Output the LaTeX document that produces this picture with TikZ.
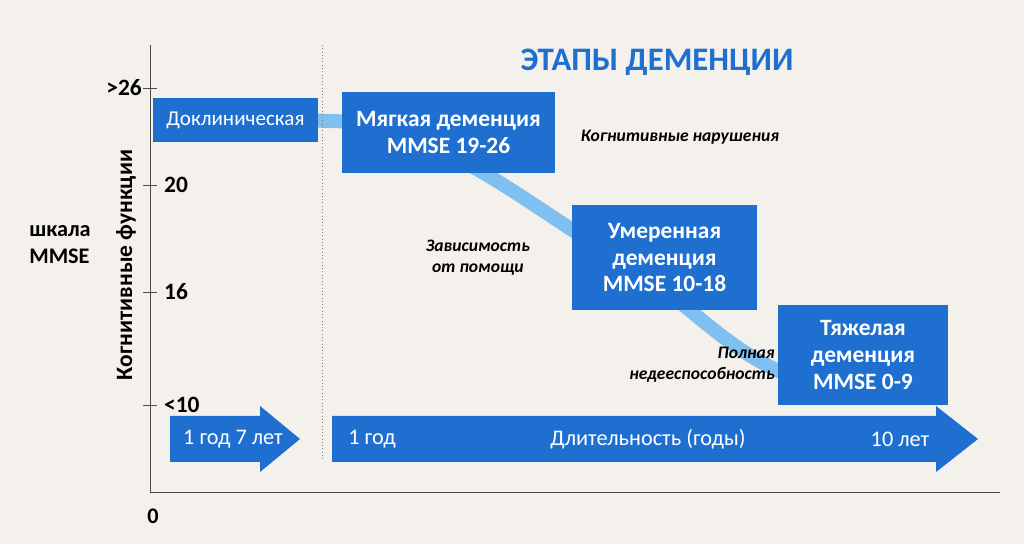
\documentclass[tikz,border=0pt]{standalone}
\usepackage{fontspec}
\setmainfont{Carlito}
\definecolor{bg}{HTML}{F4F1ED}
\definecolor{stageblue}{HTML}{1E6FD0}
\definecolor{pathblue}{HTML}{7FC0F0}
\begin{document}
\begin{tikzpicture}[
  x=0.03cm, y=-0.03cm,
  stage/.style={rectangle, fill=stageblue, text=white, align=center,
    font=\fontsize{20}{23}\selectfont\bfseries, inner sep=2pt},
  note/.style={font=\fontsize{15}{18}\selectfont\bfseries\itshape, align=center},
  ticklabel/.style={font=\fontsize{20}{22}\selectfont\bfseries, anchor=west},
  every node/.append style={font=\fontsize{19}{22}\selectfont}
]
\fill[bg] (0,0) rectangle (1024,544);

% path of decline (behind boxes)
\draw[pathblue, line width=14*0.03cm, line cap=round]
  (300,120) -- (360,122) .. controls (470,150) and (520,200) .. (620,260)
  .. controls (690,300) and (720,350) .. (800,380);

% axes and ticks
\draw[black!70, line width=0.8pt] (150,45) -- (150,492) -- (1000,492);
\foreach \y in {88, 185, 292, 405}
  \draw[black!70, line width=0.8pt] (143,\y) -- (157,\y);
\node[ticklabel, anchor=east] (t26) at (146,88) {>26};
\node[ticklabel] (t20) at (160,185) {20};
\node[ticklabel] (t16) at (160,292) {16};
\node[ticklabel] (t10) at (160,405) {<10};
\node[font=\fontsize{19}{22}\selectfont\bfseries] (zero) at (153,516) {0};
\draw[black!50, dotted, line width=0.8pt] (322,45) -- (322,460);

\node[font=\fontsize{20}{22}\selectfont\bfseries, rotate=90] (axis) at (126,265) {Когнитивные функции};
\node[font=\fontsize{19}{23}\selectfont\bfseries, align=left] (scale) at (60,245) {шкала\\MMSE};

% title
\node[font=\fontsize{28}{30}\selectfont\bfseries, text=stageblue] (title) at (657,62) {ЭТАПЫ ДЕМЕНЦИИ};

% stages
\node[stage, minimum width=165*0.03cm, minimum height=44*0.03cm,
  font=\fontsize{18}{21}\selectfont] (precl) at (235.5,120) {Доклиническая};
\node[stage, minimum width=213*0.03cm, minimum height=81*0.03cm] (mild) at (448.5,132.5) {Мягкая деменция\\MMSE 19-26};
\node[stage, minimum width=185*0.03cm, minimum height=105*0.03cm] (moder) at (664.5,257.5) {Умеренная\\деменция\\MMSE 10-18};
\node[stage, minimum width=170*0.03cm, minimum height=100*0.03cm] (severe) at (863,355) {Тяжелая\\деменция\\MMSE 0-9};

% notes
\node[note] (cogn) at (680,137) {Когнитивные нарушения};
\node[note] (depend) at (478,258) {Зависимость\\от помощи};
\node[note, align=right] (incap) at (702,365) {Полная\\недееспособность};

% time arrows
\fill[stageblue] (170,416) -- (260,416) -- (260,406) -- (300,439) -- (260,472)
  -- (260,462) -- (170,462) -- cycle;
\node[text=white] (pretext) at (233,439) {1 год 7 лет};
\fill[stageblue] (332,416) -- (936,416) -- (936,406) -- (978,439) -- (936,472)
  -- (936,462) -- (332,462) -- cycle;
\node[text=white] (durstart) at (372,439) {1 год};
\node[text=white] (durtext) at (648,439) {Длительность (годы)};
\node[text=white] (durend) at (900,439) {10 лет};
\end{tikzpicture}
\end{document}
